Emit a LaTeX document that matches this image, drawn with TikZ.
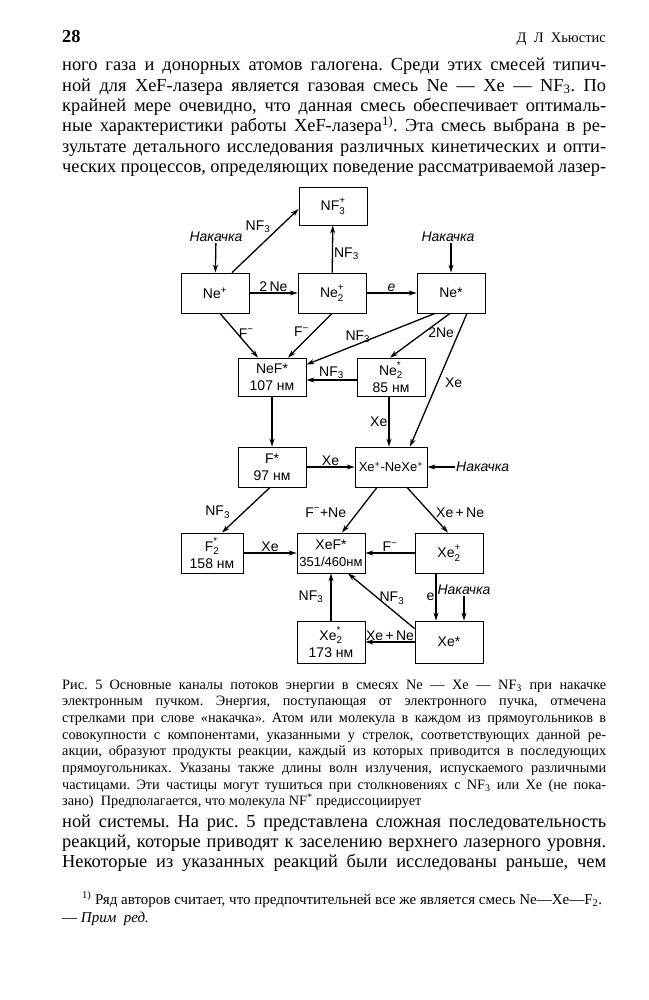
\documentclass[tikz,border=0pt]{standalone}
\usepackage{fontspec}
\setmainfont{Liberation Serif}
\newfontfamily\dgfamily{Liberation Sans}
\usetikzlibrary{arrows.meta}
\frenchspacing
\newcommand\txtbody{\fontsize{18.4pt}{20.3pt}\selectfont}
\newcommand\txtcap{\fontsize{14.3pt}{16.7pt}\selectfont}
\newcommand\dgfont{\dgfamily\fontsize{14pt}{17pt}\selectfont}
\newcommand\jl[1]{\hbox to\hsize{\spaceskip=.25em plus .8em minus .08em #1}}
\newcommand\ssp[2]{\makebox[0pt][l]{\raisebox{.25ex}{\textsuperscript{#1}}}\raisebox{-.2ex}{\textsubscript{#2}}}

\begin{document}
\begin{tikzpicture}[x=1pt,y=-1pt,
box/.style={draw,line width=.8pt,minimum width=68pt,minimum height=40pt,align=center,inner sep=1pt,font=\dgfont},
lbl/.style={font=\dgfont,inner sep=1pt},
pump/.style={font=\dgfont\itshape,inner sep=1pt},
flow/.style={->,line width=1.3pt},
>={Stealth[length=8pt,width=5pt]}]
\useasboundingbox (0,0) rectangle (648,1000);

% page text
\node[anchor=base west,inner sep=0,font=\txtbody\bfseries] (pg) at (62,43) {28};
\node[anchor=base east,inner sep=0,font=\fontsize{14.5pt}{17pt}\selectfont] (hd) at (606,43) {Д\enspace Л\enspace Хьюстис};
\node[anchor=base west,inner sep=0,text width=544pt,font=\txtbody] (par1) at (62,71) {%
\jl{ного газа и донорных атомов галогена. Среди этих смесей типич-}
\jl{ной для XeF-лазера является газовая смесь Ne — Xe — NF\textsubscript{3}. По}
\jl{крайней мере очевидно, что данная смесь обеспечивает оптималь-}
\jl{ные характеристики работы XeF-лазера\textsuperscript{1)}. Эта смесь выбрана в ре-}
\jl{зультате детального исследования различных кинетических и опти-}
\jl{ческих процессов, определяющих поведение рассматриваемой лазер-}};
\node[anchor=base west,inner sep=0,text width=544pt,font=\txtcap] (cap) at (62,689) {%
\jl{Рис. 5\enspace Основные каналы потоков энергии в смесях Ne — Xe — NF\textsubscript{3} при накачке}
\jl{электронным пучком. Энергия, поступающая от электронного пучка, отмечена}
\jl{стрелками при слове «накачка». Атом или молекула в каждом из прямоугольников в}
\jl{совокупности с компонентами, указанными у стрелок, соответствующих данной ре-}
\jl{акции, образуют продукты реакции, каждый из которых приводится в последующих}
\jl{прямоугольниках. Указаны также длины волн излучения, испускаемого различными}
\jl{частицами. Эти частицы могут тушиться при столкновениях с NF\textsubscript{3} или Xe (не пока-}
\jl{зано)\enspace Предполагается, что молекула NF\textsuperscript{*} предиссоциирует\hfil}};
\node[anchor=base west,inner sep=0,text width=544pt,font=\txtbody] (par2) at (62,827) {%
\jl{ной системы. На рис. 5 представлена сложная последовательность}
\jl{реакций, которые приводят к заселению верхнего лазерного уровня.}
\jl{Некоторые из указанных реакций были исследованы раньше, чем}};
\node[anchor=base west,inner sep=0,text width=544pt,font=\fontsize{15pt}{18pt}\selectfont] (fn) at (62,904) {%
\jl{\hskip 20pt\textsuperscript{1)} Ряд авторов считает, что предпочтительней все же является смесь Ne—Xe—F\textsubscript{2}.\hfil}
\jl{— \textit{Прим\enspace ред.}\hfil}};

% boxes
\node[box,minimum height=38pt] (nfp) at (333,206) {NF\ssp{+}{3}};
\node[box] (nep) at (215,293) {Ne\textsuperscript{+}};
\node[box] (ne2p) at (332,293) {Ne\ssp{+}{2}};
\node[box] (nes) at (451,293) {Ne*};
\node[box,minimum height=38pt] (nef) at (272,377) {NeF*\\107 нм};
\node[box,minimum height=38pt] (ne2s) at (391,377) {Ne\ssp{*}{2}\\85 нм};
\node[box] (fs) at (272,467) {F*\\97 нм};
\node[box,minimum width=72pt] (xep) at (391,467) {\fontsize{13pt}{15pt}\selectfont Xe\textsuperscript{+}-NeXe\textsuperscript{+}};
\node[box,minimum width=62pt] (f2s) at (212,553) {F\ssp{*}{2}\\158 нм};
\node[box] (xef) at (331,553) {XeF*\\{\fontsize{13pt}{15pt}\selectfont 351/460нм}};
\node[box] (xe2p) at (449,553) {Xe\ssp{+}{2}};
\node[box,minimum height=42pt] (xe2s) at (331,642) {Xe\ssp{*}{2}\\173 нм};
\node[box,minimum height=42pt] (xes) at (449,642) {Xe*};

% pumping
\node[pump] (nk1) at (216,237) {Накачка};
\node[pump] (nk2) at (448,237) {Накачка};
\node[pump,anchor=west] (nk3) at (455,467) {Накачка};
\node[pump] (nk4) at (464,590) {Накачка};

\draw[flow] (nk1) -- (nep);
\draw[flow] (nk2.south -| nes) -- (nes);
\draw[flow] (nk3) -- (xep);
\draw[flow] (nk4) -- (nk4 |- xes.north);

% reactions
\draw[flow] ([xshift=17pt]nep.north) -- node[lbl,pos=.6,above left] {NF\textsubscript{3}} ([yshift=-3pt]nfp.west);
\draw[flow] (ne2p) -- node[lbl,pos=.4,right] {NF\textsubscript{3}} (nfp);
\draw[flow] (nep) -- node[lbl,above] {2\,Ne} (ne2p);
\draw[flow] (ne2p) -- node[lbl,above] {\textit{e}} (nes);
\draw[flow] ([xshift=5pt]nep.south) -- node[lbl,pos=.45,right] {F\textsuperscript{−}} ([xshift=-14pt]nef.north);
\draw[flow] (ne2p.south) -- node[lbl,pos=.42,left=3pt] {F\textsuperscript{−}} ([xshift=16pt]nef.north);
\draw[flow] ([xshift=-16pt]nes.south) -- node[lbl,pos=.6,above] {NF\textsubscript{3}} ([yshift=-7pt]nef.north east);
\draw[flow] ([xshift=-1pt]nes.south) -- node[lbl,pos=.44,right=3pt] {2Ne} ([xshift=-1pt]ne2s.north);
\draw[flow] ([xshift=16pt]nes.south) -- node[lbl,pos=.52,right=6pt] {Xe} ([xshift=19pt]xep.north);
\draw[flow] ([yshift=-3pt]ne2s.west) -- node[lbl,above=0pt] {NF\textsubscript{3}} ([yshift=-3pt]nef.east);
\draw[flow] (nef) -- (fs);
\draw[flow] ([xshift=-2pt]ne2s.south) -- node[lbl,left] {Xe} ([xshift=-2pt]xep.north);
\draw[flow] (fs) -- node[lbl,above] {Xe} (xep);
\draw[flow] ([xshift=-2pt]fs.south) -- node[lbl,pos=.55,left=12pt] {NF\textsubscript{3}} ([xshift=10pt]f2s.north);
\draw[flow] ([xshift=-14pt]xep.south) -- node[lbl,pos=.55,left=10pt] {F\textsuperscript{−}+Ne} ([xshift=11pt]xef.north);
\draw[flow] ([xshift=16pt]xep.south) -- node[lbl,pos=.55,right=5pt] {Xe\,+\,Ne} ([xshift=-1pt]xe2p.north);
\draw[flow] (f2s) -- node[lbl,above] {Xe} (xef);
\draw[flow] (xe2p) -- node[lbl,above] {F\textsuperscript{−}} (xef);
\draw[flow] ([xshift=-13pt]xe2p.south) -- node[lbl,left] {e} ([xshift=-13pt]xes.north);
\draw[flow] ([yshift=-8pt]xes.north west) -- node[lbl,pos=.55,right] {NF\textsubscript{3}} ([xshift=17pt]xef.south);
\draw[flow] (xes) -- node[lbl,above] {Xe\,+\,Ne} (xe2s);
\draw[flow] (xe2s) -- node[lbl,left=6pt] {NF\textsubscript{3}} (xef);
\end{tikzpicture}
\end{document}
